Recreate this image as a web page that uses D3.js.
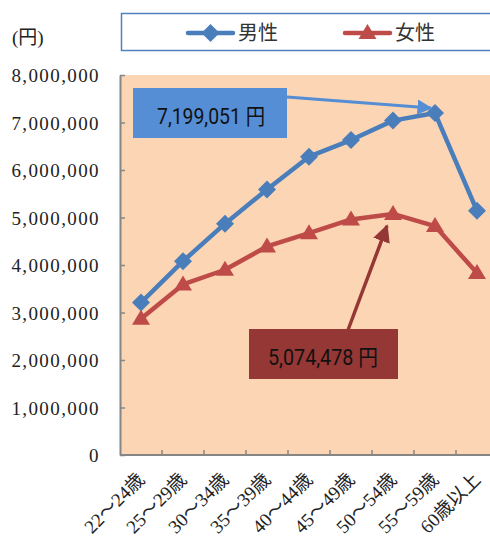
<!DOCTYPE html>
<html>
<head>
<meta charset="utf-8">
<script src="https://cdn.jsdelivr.net/npm/d3@7"></script>
<style>
  html, body { margin: 0; padding: 0; background: #ffffff; }
  svg { display: block; }
</style>
</head>
<body>
<svg id="chart" width="490" height="543"></svg>
<script>
// 年齢階級別の平均年収（男性・女性）
const categories = ["22〜24歳", "25〜29歳", "30〜34歳", "35〜39歳", "40〜44歳", "45〜49歳", "50〜54歳", "55〜59歳", "60歳以上"];
const maleValues = [3210000, 4080000, 4870000, 5590000, 6280000, 6630000, 7040000, 7199051, 5140000];
const femaleValues = [2870000, 3590000, 3900000, 4390000, 4670000, 4960000, 5074478, 4820000, 3830000];
const seriesNames = ["男性", "女性"];
const yTicks = [0, 1000000, 2000000, 3000000, 4000000, 5000000, 6000000, 7000000, 8000000];
const unitLabel = "(円)";

const colors = {
  male: "#4A7EBB",
  female: "#BE4B48",
  maleNote: "#558ED5",
  femaleNote: "#953735",
  plotBg: "#FCD5B5",
  axis: "#868686",
  legendBorder: "#4F81BD"
};

const svg = d3.select("#chart");
const plot = { left: 120, right: 498, top: 75, bottom: 455 };
const serifFont = "'Liberation Serif', 'Noto Sans CJK JP', serif";
const cjkFont = "'Noto Sans CJK JP', sans-serif";
const narrowFont = "'Liberation Sans Narrow', 'Roboto', 'Noto Sans CJK JP', sans-serif";

const x = d3.scaleBand().domain(categories).range([plot.left, plot.right]);
const y = d3.scaleLinear().domain([0, 8000000]).range([plot.bottom, plot.top]);
const cx = d => x(d) + x.bandwidth() / 2;

// arrowheads
const defs = svg.append("defs");
[["arrowBlue", colors.maleNote], ["arrowRed", colors.femaleNote]].forEach(([id, c]) => {
  defs.append("marker")
    .attr("id", id)
    .attr("viewBox", "0 0 10 10")
    .attr("refX", 9).attr("refY", 5)
    .attr("markerWidth", 5).attr("markerHeight", 5)
    .attr("markerUnits", "strokeWidth")
    .attr("orient", "auto")
    .append("path")
    .attr("d", "M0,0 L10,5 L0,10 z")
    .attr("fill", c);
});

// plot background
svg.append("rect")
  .attr("x", plot.left).attr("y", plot.top)
  .attr("width", plot.right - plot.left).attr("height", plot.bottom - plot.top)
  .attr("fill", colors.plotBg);

// y axis
const yAxis = d3.axisLeft(y)
  .tickValues(yTicks)
  .tickFormat(d3.format(","))
  .tickSizeInner(-5)
  .tickSizeOuter(0)
  .tickPadding(20);
const gy = svg.append("g").attr("transform", `translate(${plot.left},0)`).call(yAxis);
gy.select(".domain").attr("stroke", colors.axis).attr("stroke-width", 2);
gy.selectAll(".tick line").attr("stroke", colors.axis).attr("stroke-width", 1.5);
gy.selectAll(".tick text")
  .attr("fill", "#222")
  .attr("font-family", serifFont)
  .attr("font-size", 19)
  .attr("letter-spacing", "1.4px")
  .attr("dy", "0.36em");

// x axis: line with ticks at category boundaries
svg.append("line")
  .attr("x1", plot.left).attr("x2", plot.right)
  .attr("y1", plot.bottom).attr("y2", plot.bottom)
  .attr("stroke", colors.axis).attr("stroke-width", 2);
svg.append("g").selectAll("line")
  .data(categories.slice(1))
  .join("line")
  .attr("x1", d => x(d)).attr("x2", d => x(d))
  .attr("y1", plot.bottom).attr("y2", plot.bottom - 5)
  .attr("stroke", colors.axis).attr("stroke-width", 1.5);

// x labels, rotated
svg.append("g").selectAll("text")
  .data(categories)
  .join("text")
  .attr("transform", d => `translate(${cx(d)},${plot.bottom + 21}) rotate(-45)`)
  .attr("text-anchor", "end")
  .attr("dy", "0.35em")
  .attr("font-family", serifFont)
  .attr("font-size", 19)
  .attr("fill", "#222")
  .text(d => d);

// unit label
svg.append("text")
  .attr("x", 12).attr("y", 44)
  .attr("font-family", serifFont)
  .attr("font-size", 19)
  .attr("fill", "#222")
  .text(unitLabel);

// series
const line = d3.line().x((d, i) => cx(categories[i])).y(d => y(d));
const series = [
  { name: seriesNames[0], values: maleValues, color: colors.male, symbol: d3.symbolDiamond },
  { name: seriesNames[1], values: femaleValues, color: colors.female, symbol: d3.symbolTriangle }
];

series.forEach(s => {
  svg.append("path")
    .datum(s.values)
    .attr("d", line)
    .attr("fill", "none")
    .attr("stroke", s.color)
    .attr("stroke-width", 4.5)
    .attr("stroke-linejoin", "round");
});

function drawMarker(g, s, px, py) {
  if (s.symbol === d3.symbolDiamond) {
    const r = 9;
    g.append("path")
      .attr("d", `M${px},${py - r} L${px + r},${py} L${px},${py + r} L${px - r},${py} Z`)
      .attr("fill", s.color);
  } else {
    const h = 15, w = 18;
    g.append("path")
      .attr("d", `M${px},${py - h * 0.6} L${px + w / 2},${py + h * 0.4} L${px - w / 2},${py + h * 0.4} Z`)
      .attr("fill", s.color);
  }
}

series.forEach(s => {
  const g = svg.append("g");
  s.values.forEach((v, i) => drawMarker(g, s, cx(categories[i]), y(v)));
});

// legend
svg.append("rect")
  .attr("x", 121.5).attr("y", 13.5)
  .attr("width", 380).attr("height", 37)
  .attr("fill", "#fff")
  .attr("stroke", colors.legendBorder)
  .attr("stroke-width", 1.5);
const legendItems = [
  { s: series[0], x0: 188 },
  { s: series[1], x0: 345 }
];
legendItems.forEach(({ s, x0 }) => {
  const g = svg.append("g");
  g.append("line")
    .attr("x1", x0).attr("x2", x0 + 45)
    .attr("y1", 33).attr("y2", 33)
    .attr("stroke", s.color).attr("stroke-width", 4.5)
    .attr("stroke-linecap", "round");
  drawMarker(g, s, x0 + 22.5, 33);
  g.append("text")
    .attr("x", x0 + 50).attr("y", 40)
    .attr("font-family", cjkFont)
    .attr("font-size", 20)
    .attr("fill", "#333")
    .text(s.name);
});

// callouts for peak values
const fmt = d3.format(",");
const maleIdx = maleValues.indexOf(d3.max(maleValues));
const femaleIdx = femaleValues.indexOf(d3.max(femaleValues));

// male callout
svg.append("rect")
  .attr("x", 133).attr("y", 88).attr("width", 154).attr("height", 50)
  .attr("fill", colors.maleNote);
svg.append("text")
  .attr("x", 211).attr("y", 124)
  .attr("text-anchor", "middle")
  .attr("font-family", narrowFont)
  .attr("font-size", 22)
  .attr("textLength", 108).attr("lengthAdjust", "spacingAndGlyphs")
  .attr("fill", "#111")
  .text(fmt(maleValues[maleIdx]) + " 円");
svg.append("line")
  .attr("x1", 287).attr("y1", 97)
  .attr("x2", cx(categories[maleIdx]) - 4).attr("y2", y(maleValues[maleIdx]) - 5)
  .attr("stroke", colors.maleNote).attr("stroke-width", 3)
  .attr("marker-end", "url(#arrowBlue)");

// female callout
svg.append("line")
  .attr("x1", 348).attr("y1", 330)
  .attr("x2", cx(categories[femaleIdx]) - 6).attr("y2", y(femaleValues[femaleIdx]) + 12)
  .attr("stroke", colors.femaleNote).attr("stroke-width", 3.5)
  .attr("marker-end", "url(#arrowRed)");
svg.append("rect")
  .attr("x", 249).attr("y", 329).attr("width", 149).attr("height", 50)
  .attr("fill", colors.femaleNote);
svg.append("text")
  .attr("x", 323).attr("y", 365)
  .attr("text-anchor", "middle")
  .attr("font-family", narrowFont)
  .attr("font-size", 22)
  .attr("textLength", 110).attr("lengthAdjust", "spacingAndGlyphs")
  .attr("fill", "#111")
  .text(fmt(femaleValues[femaleIdx]) + " 円");
</script>
</body>
</html>
